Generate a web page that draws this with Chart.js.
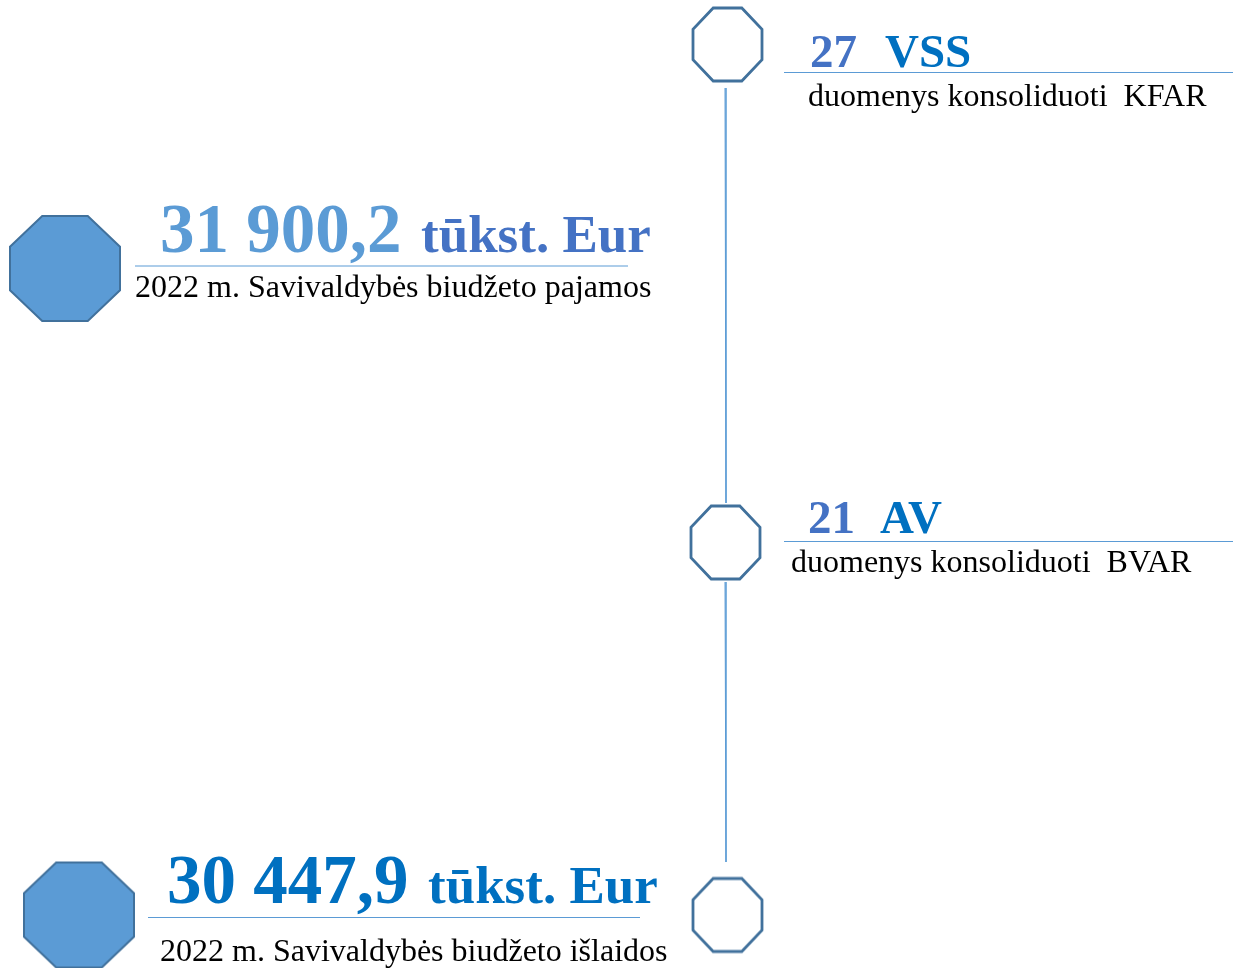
<!DOCTYPE html>
<html><head><meta charset="utf-8">
<script src="https://cdn.jsdelivr.net/npm/chart.js@4"></script>
<style>html,body{margin:0;padding:0;background:#fff;overflow:hidden}#wrap{width:1233px;height:968px;position:relative}</style>
</head><body><div id="wrap"><canvas id="c" width="1233" height="968"></canvas></div>
<script>
// ---- data ----
const budgetLabels = ['2022 m. Savivaldybės biudžeto pajamos', '2022 m. Savivaldybės biudžeto išlaidos'];
const budgetValues = [31900.2, 30447.9];
const budgetUnit = 'tūkst. Eur';
const entityCounts = [27, 21];
const entityTypes = ['VSS', 'AV'];
const entityNotes = ['duomenys konsoliduoti  KFAR', 'duomenys konsoliduoti  BVAR'];

// ---- layout (page-pixel units on hidden linear scales) ----
const LAYOUT = {
  budget: [
    {oct:[65,268.5], num:[160,252], unit:[421,252], rule:[135,628,266], label:[135,297], numColor:'#5B9BD5', unitColor:'#4472C4'},
    {oct:[79,915], num:[167,903], unit:[428,903], rule:[148,640,917.5], label:[160,961], numColor:'#0070C0', unitColor:'#0070C0'}
  ],
  entity: [
    {oct:[727.5,44.5], num:[810,67], type:[885,67], rule:[784,1233,72.5], label:[808,106]},
    {oct:[725.5,542.5], num:[808,533], type:[880,533], rule:[784,1233,541.5], label:[791,572]}
  ],
  endNode:[727.5,915],
  connectors:[[[725,88],[726,503]],[[725,582],[726,862]]]
};
const STYLE = {
  fill:'#5B9BD5', stroke:'#41719C', rule:'#5B9BD5', numFont:'bold 69px "Liberation Serif"',
  unitFont:'bold 53px "Liberation Serif"', entFont:'bold 47px "Liberation Serif"',
  labelFont:'32px "Liberation Serif"', entNum:'#4472C4', entType:'#0070C0'
};

function fmt(v){
  const [i,d] = v.toFixed(1).split('.');
  return i.replace(/\B(?=(\d{3})+(?!\d))/g,' ') + ',' + d;
}
function octagon(w,h,fill,stroke,lw){
  const c=document.createElement('canvas');
  const p=Math.ceil(lw);
  c.width=w+2*p; c.height=h+2*p;
  const g=c.getContext('2d');
  const a=w/(2+Math.SQRT2), b=h/(2+Math.SQRT2);
  const pts=[[a,0],[w-a,0],[w,b],[w,h-b],[w-a,h],[a,h],[0,h-b],[0,b]];
  g.beginPath();
  pts.forEach(([x,y],i)=>{ i?g.lineTo(x+p,y+p):g.moveTo(x+p,y+p); });
  g.closePath();
  if(fill){g.fillStyle=fill;g.fill();}
  g.lineWidth=lw; g.strokeStyle=stroke; g.lineJoin='miter'; g.stroke();
  return c;
}
const filledOct = octagon(110,105,STYLE.fill,STYLE.stroke,2);
const outlineOct = octagon(69,73,null,STYLE.stroke,2.8);

const textPlugin = {
  id:'texts',
  afterDatasetsDraw(chart){
    const ctx=chart.ctx, X=chart.scales.x, Y=chart.scales.y;
    const px=v=>X.getPixelForValue(v), py=v=>Y.getPixelForValue(v);
    ctx.save();
    ctx.textBaseline='alphabetic'; ctx.textAlign='left';
    const rule=(r)=>{ctx.beginPath();ctx.strokeStyle=STYLE.rule;ctx.lineWidth=1;ctx.moveTo(px(r[0]),py(r[2]));ctx.lineTo(px(r[1]),py(r[2]));ctx.stroke();};
    budgetValues.forEach((v,i)=>{
      const L=LAYOUT.budget[i];
      ctx.font=STYLE.numFont; ctx.fillStyle=L.numColor; ctx.fillText(fmt(v),px(L.num[0]),py(L.num[1]));
      ctx.font=STYLE.unitFont; ctx.fillStyle=L.unitColor; ctx.fillText(budgetUnit,px(L.unit[0]),py(L.unit[1]));
      rule(L.rule);
      ctx.font=STYLE.labelFont; ctx.fillStyle='#000'; ctx.fillText(budgetLabels[i],px(L.label[0]),py(L.label[1]));
    });
    entityCounts.forEach((n,i)=>{
      const L=LAYOUT.entity[i];
      ctx.font=STYLE.entFont; ctx.fillStyle=STYLE.entNum; ctx.fillText(String(n),px(L.num[0]),py(L.num[1]));
      ctx.fillStyle=STYLE.entType; ctx.fillText(entityTypes[i],px(L.type[0]),py(L.type[1]));
      rule(L.rule);
      ctx.font=STYLE.labelFont; ctx.fillStyle='#000'; ctx.fillText(entityNotes[i],px(L.label[0]),py(L.label[1]));
    });
    ctx.restore();
  }
};

const pt=a=>({x:a[0],y:a[1]});
new Chart(document.getElementById('c'),{
  type:'scatter',
  data:{datasets:[
    ...LAYOUT.connectors.map(seg=>({type:'line',data:seg.map(pt),borderColor:STYLE.rule,borderWidth:1,pointRadius:0,fill:false,clip:false})),
    {data:LAYOUT.budget.map(b=>pt(b.oct)),pointStyle:filledOct,pointRadius:5,clip:false},
    {data:[...LAYOUT.entity.map(e=>pt(e.oct)),pt(LAYOUT.endNode)],pointStyle:outlineOct,pointRadius:5,clip:false}
  ]},
  options:{
    responsive:false,animation:false,devicePixelRatio:1,
    layout:{padding:0,autoPadding:false},
    plugins:{legend:{display:false},tooltip:{enabled:false}},
    scales:{
      x:{type:'linear',min:0,max:1233,display:false},
      y:{type:'linear',min:0,max:968,reverse:true,display:false}
    }
  },
  plugins:[textPlugin]
});
</script></body></html>
